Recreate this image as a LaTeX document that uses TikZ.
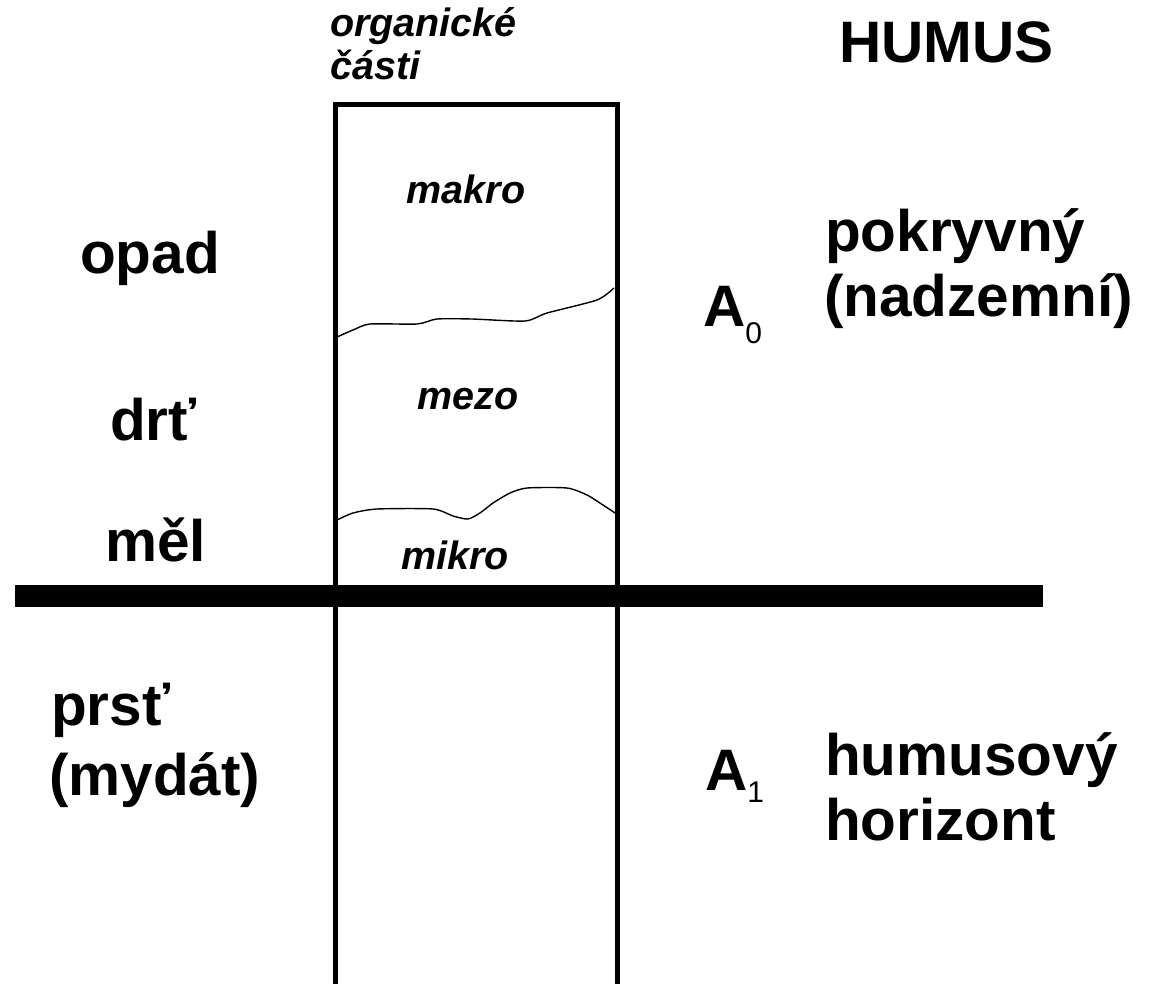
\documentclass[tikz,border=0pt]{standalone}
\usepackage{fontspec}
\setmainfont{Liberation Sans}
\begin{document}
\begin{tikzpicture}[x=1pt,y=-1pt,
  big/.style={font=\fontsize{58.5}{66}\selectfont\bfseries, anchor=base west, inner sep=0pt},
  small/.style={font=\fontsize{39.5}{44}\selectfont\bfseries\itshape, anchor=base, inner sep=0pt},
  smallw/.style={small, anchor=base west},
  wave/.style={line width=1.4pt, smooth, tension=0.4}]
\useasboundingbox (0,0) rectangle (1149,983);
% box
\node (box) [draw, line width=5pt, minimum width=282pt, minimum height=884pt, anchor=north west, inner sep=0pt, outer sep=0pt] at (335.5,104) {};
% ground line
\coordinate (gl) at (15,596);
\coordinate (gr) at (1043,596);
\draw[line width=22pt] (gl) -- (gr);
% waves
\draw[wave] plot coordinates {(337,337) (353,330) (370,324) (417,324) (437,319) (472,319) (525,321) (547,313) (597,300) (614,288)};
\draw[wave] plot coordinates {(337,520) (353,513) (377,509) (433,509) (453,516) (468,519) (480,513) (493,503) (510,493) (527,488) (567,488) (587,495) (603,505) (615,513)};
% top labels
\node (org) [smallw] at (330,36) {organické};
\node (cas) [smallw] at (330,79) {části};
\node (humus) [big] at (839,62) {HUMUS};
% inside box
\node (makro) [small] at (466,203) {makro};
\node (mezo) [small] at (468,409) {mezo};
\node (mikro) [small] at (455,569) {mikro};
% left labels
\node (opad) [big] at (80,273) {opad};
\node (drt) [big] at (110,440) {drť};
\node (mel) [big] at (105,561) {měl};
\node (prst) [big] at (51,725) {prsť};
\node (myd) [big] at (49,795) {(mydát)};
% A labels
\node (a0) [big] at (703,326) {A\raisebox{-17pt}{\fontsize{30}{30}\selectfont\mdseries 0}};
\node (a1) [big] at (705,790) {A\raisebox{-12pt}{\fontsize{30}{30}\selectfont\mdseries 1}};
% right labels
\node (pok) [big] at (825,251) {pokryvný};
\node (nad) [big] at (824,316) {(nadzemní)};
\node (hum) [big] at (825,775) {humusový};
\node (hor) [big] at (825,840) {horizont};
\end{tikzpicture}
\end{document}
